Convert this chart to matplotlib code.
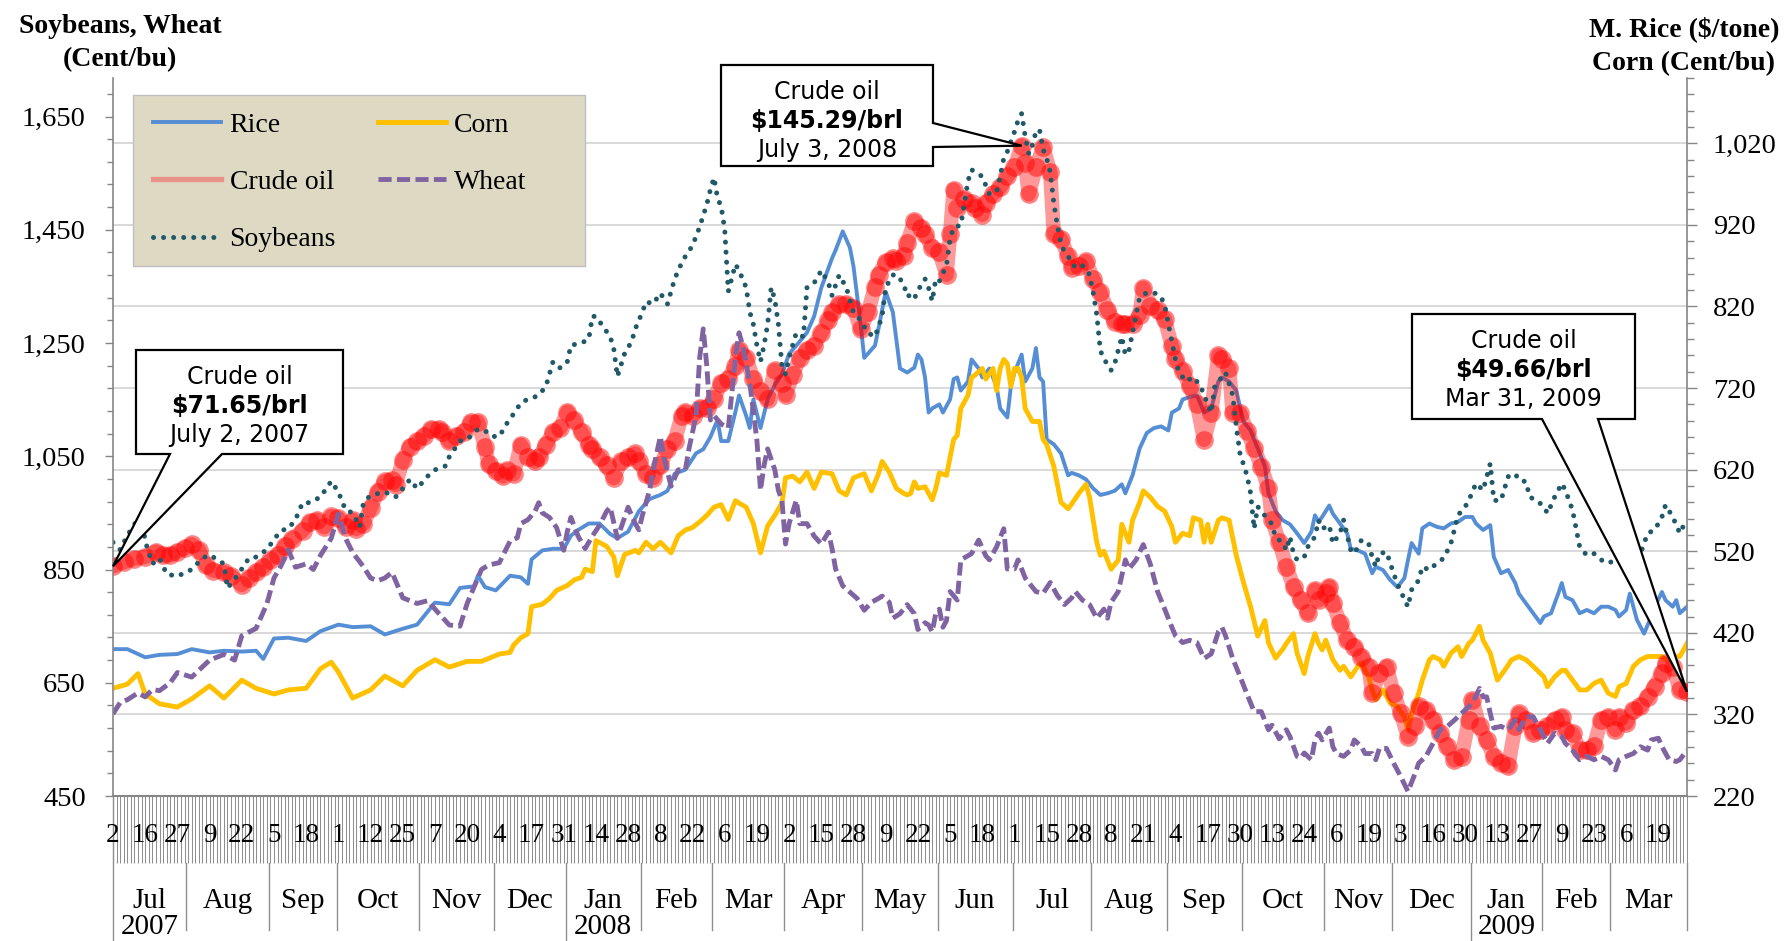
import numpy as np
import pandas as pd
import matplotlib
matplotlib.use("Agg")
import matplotlib.pyplot as plt
from matplotlib.lines import Line2D
from matplotlib.patches import Polygon, Rectangle
from matplotlib.ticker import FixedLocator, FuncFormatter, NullLocator

# ------------------------------------------------------------------
# DATA  (x = trading-day number counted from 2 Jul 2007)
# ------------------------------------------------------------------
market_holidays = ['2007-07-04', '2007-09-03', '2007-11-22', '2007-12-25',
                   '2008-01-01', '2008-01-21', '2008-02-18', '2008-03-21',
                   '2008-05-26', '2008-07-04', '2008-09-01', '2008-11-27',
                   '2008-12-25', '2009-01-01', '2009-01-19', '2009-02-16']

# M. Rice ($/tonne) - right axis
rice_day = [0, 4, 9, 13, 18, 22, 27, 31, 36, 40,
            42, 45, 49, 54, 58, 63, 67, 72, 76, 81,
            85, 90, 94, 97, 101, 102, 104, 107, 111, 114,
            116, 117, 120, 123, 126, 128, 130, 133, 136, 139,
            141, 144, 147, 150, 153, 155, 157, 160, 163, 165,
            167, 169, 170, 172, 174, 175, 177, 178, 179, 181,
            183, 185, 187, 189, 191, 194, 196, 198, 201, 202,
            204, 206, 207, 209, 210, 213, 214, 216, 218, 220,
            222, 224, 225, 226, 227, 228, 229, 231, 232, 234,
            235, 236, 237, 239, 240, 242, 243, 245, 247, 248,
            250, 251, 252, 253, 254, 255, 257, 258, 259, 260,
            261, 263, 265, 267, 268, 270, 272, 274, 276, 278,
            280, 282, 283, 285, 287, 289, 291, 293, 295, 296,
            298, 299, 301, 303, 305, 307, 309, 310, 312, 314,
            316, 318, 320, 322, 323, 325, 327, 329, 331, 333,
            335, 336, 337, 338, 340, 341, 343, 345, 346, 348,
            350, 351, 352, 353, 355, 357, 359, 361, 362, 363,
            365, 366, 368, 370, 372, 374, 376, 378, 380, 381,
            383, 385, 386, 388, 390, 392, 393, 395, 397, 399,
            400, 402, 404, 405, 406, 408, 410, 412, 414, 416,
            418, 420, 421, 423, 424, 426, 428, 430, 431, 433,
            434, 436, 437, 438, 440]
rice_val = [400, 400, 390, 393, 394, 400, 396, 398, 397, 398,
            388, 413, 414, 410, 422, 430, 427, 428, 418, 425,
            430, 457, 455, 475, 477, 490, 476, 472, 490, 488,
            480, 510, 521, 523, 523, 539, 546, 554, 554, 541,
            536, 544, 569, 584, 589, 594, 615, 620, 640, 645,
            660, 681, 655, 655, 691, 711, 686, 671, 706, 671,
            706, 724, 737, 762, 772, 788, 808, 843, 879, 889,
            912, 892, 869, 798, 757, 772, 793, 838, 813, 744,
            739, 745, 761, 755, 733, 690, 695, 700, 690, 706,
            731, 733, 717, 728, 755, 744, 733, 744, 722, 695,
            684, 722, 739, 750, 761, 728, 744, 769, 733, 728,
            657, 651, 640, 613, 616, 613, 608, 597, 589, 591,
            594, 602, 591, 613, 646, 665, 671, 673, 668, 690,
            695, 706, 709, 711, 690, 695, 728, 733, 728, 717,
            679, 668, 646, 624, 591, 569, 558, 553, 542, 530,
            544, 564, 556, 562, 576, 566, 554, 542, 523, 521,
            517, 505, 493, 501, 497, 485, 476, 487, 509, 530,
            517, 548, 554, 550, 548, 554, 556, 562, 562, 554,
            546, 552, 513, 493, 497, 481, 468, 456, 444, 432,
            440, 444, 468, 481, 464, 460, 444, 448, 444, 452,
            452, 448, 440, 448, 468, 436, 419, 440, 452, 470,
            460, 452, 460, 444, 452]

# Corn (cent/bu) - right axis
corn_day = [0, 4, 7, 9, 13, 18, 22, 27, 31, 36,
            40, 45, 49, 54, 58, 61, 63, 67, 72, 76,
            81, 85, 90, 94, 99, 103, 108, 111, 112, 114,
            116, 117, 120, 122, 124, 127, 129, 131, 132, 134,
            135, 138, 140, 141, 143, 146, 147, 149, 151, 153,
            156, 158, 160, 162, 164, 166, 168, 170, 172, 174,
            175, 177, 179, 181, 183, 185, 187, 188, 190, 192,
            194, 196, 198, 201, 203, 205, 207, 210, 212, 214,
            215, 217, 219, 221, 222, 223, 224, 225, 227, 228,
            229, 230, 231, 233, 234, 235, 236, 237, 239, 240,
            241, 243, 244, 246, 247, 248, 249, 250, 251, 252,
            253, 254, 255, 257, 259, 260, 261, 263, 265, 267,
            268, 270, 272, 273, 275, 276, 277, 279, 281, 282,
            284, 285, 287, 288, 290, 292, 294, 296, 297, 299,
            301, 302, 304, 305, 306, 307, 309, 310, 312, 314,
            316, 318, 320, 322, 323, 325, 327, 328, 330, 331,
            333, 334, 336, 337, 338, 339, 341, 343, 344, 346,
            348, 349, 351, 352, 353, 355, 357, 359, 361, 362,
            363, 365, 366, 368, 369, 371, 372, 374, 376, 377,
            379, 380, 382, 383, 385, 387, 389, 391, 393, 395,
            397, 400, 401, 403, 405, 406, 408, 410, 412, 414,
            416, 418, 420, 421, 423, 425, 427, 429, 431, 433,
            434, 436, 438, 440]
corn_val = [352, 357, 370, 345, 333, 329, 339, 355, 340, 362,
            352, 345, 350, 352, 376, 384, 372, 340, 350, 367,
            355, 374, 387, 378, 385, 385, 394, 396, 405, 414,
            419, 452, 455, 462, 472, 478, 485, 488, 498, 495,
            533, 526, 513, 490, 516, 521, 518, 531, 523, 531,
            518, 539, 546, 549, 556, 564, 574, 577, 559, 582,
            579, 574, 554, 518, 551, 564, 579, 610, 612, 605,
            617, 597, 617, 615, 594, 589, 610, 615, 594, 615,
            630, 617, 597, 591, 589, 591, 605, 597, 599, 591,
            583, 597, 616, 613, 635, 657, 662, 695, 711, 733,
            736, 744, 731, 744, 717, 744, 755, 750, 722, 744,
            744, 733, 695, 679, 679, 657, 651, 624, 580, 572,
            578, 591, 602, 586, 531, 515, 520, 498, 509, 553,
            531, 558, 580, 594, 586, 575, 569, 550, 531, 542,
            539, 561, 558, 531, 553, 531, 558, 561, 558, 515,
            482, 452, 416, 435, 408, 389, 400, 407, 419, 395,
            370, 391, 419, 407, 399, 411, 387, 374, 379, 366,
            379, 383, 366, 350, 338, 350, 334, 330, 317, 301,
            321, 346, 362, 387, 391, 387, 379, 395, 403, 391,
            407, 411, 428, 411, 395, 362, 374, 387, 391, 387,
            379, 366, 354, 366, 374, 374, 362, 350, 350, 358,
            362, 346, 342, 354, 358, 379, 387, 391, 391, 391,
            387, 391, 391, 407]

# Wheat (cent/bu) - left axis
wheat_day = [0, 2, 4, 7, 9, 11, 13, 16, 18, 22,
             27, 31, 34, 36, 40, 43, 45, 47, 49, 51,
             54, 56, 58, 61, 63, 65, 67, 70, 72, 74,
             76, 78, 81, 85, 88, 90, 94, 97, 99, 101,
             103, 105, 108, 111, 113, 114, 116, 118, 119, 120,
             122, 124, 126, 127, 128, 130, 132, 134, 136, 138,
             139, 141, 143, 144, 146, 147, 148, 150, 151, 153,
             154, 156, 158, 160, 161, 163, 164, 165, 166, 167,
             168, 170, 172, 174, 175, 176, 178, 179, 180, 181,
             182, 183, 185, 186, 187, 188, 189, 191, 192, 194,
             196, 198, 200, 201, 202, 204, 206, 208, 210, 212,
             214, 215, 217, 218, 220, 222, 224, 225, 227, 228,
             229, 230, 231, 232, 233, 234, 236, 237, 240, 241,
             242, 244, 245, 247, 249, 250, 252, 253, 255, 256,
             258, 260, 262, 264, 266, 268, 269, 271, 273, 275,
             277, 278, 279, 281, 283, 284, 286, 288, 290, 292,
             294, 296, 297, 299, 301, 303, 305, 307, 309, 310,
             311, 313, 315, 317, 319, 321, 323, 324, 326, 327,
             328, 329, 331, 332, 333, 335, 336, 337, 338, 340,
             341, 342, 344, 346, 347, 349, 350, 352, 353, 354,
             356, 358, 360, 362, 364, 365, 367, 369, 371, 373,
             375, 377, 379, 380, 382, 383, 384, 385, 386, 388,
             390, 392, 393, 395, 397, 399, 401, 403, 405, 406,
             408, 410, 412, 414, 416, 418, 420, 421, 423, 425,
             427, 429, 430, 432, 433, 435, 437, 438, 440]
wheat_val = [595, 615, 620, 632, 625, 638, 636, 650, 668, 660,
             690, 700, 690, 733, 746, 789, 835, 857, 885, 854,
             860, 850, 875, 905, 948, 905, 880, 855, 835, 830,
             835, 845, 800, 790, 795, 780, 752, 750, 790, 820,
             850, 858, 862, 900, 906, 931, 938, 953, 968, 950,
             942, 924, 884, 917, 942, 909, 887, 909, 928, 953,
             960, 905, 942, 960, 931, 920, 946, 990, 1026, 1085,
             1048, 997, 1026, 1026, 1063, 1122, 1224, 1275, 1209, 1114,
             1122, 1107, 1100, 1224, 1268, 1246, 1180, 1129, 1078, 990,
             1034, 1063, 1026, 990, 972, 895, 931, 972, 931, 931,
             909, 895, 916, 887, 851, 821, 810, 799, 778, 792,
             799, 803, 792, 764, 772, 788, 772, 744, 756, 752,
             740, 772, 780, 748, 760, 811, 796, 867, 878, 890,
             902, 874, 867, 890, 922, 851, 851, 867, 835, 827,
             811, 808, 827, 804, 788, 800, 811, 796, 788, 764,
             780, 764, 792, 811, 867, 851, 867, 894, 859, 811,
             780, 748, 733, 721, 725, 721, 693, 701, 740, 748,
             733, 693, 662, 630, 599, 599, 567, 575, 551, 559,
             567, 555, 520, 517, 526, 514, 549, 561, 549, 570,
             537, 525, 520, 531, 549, 537, 525, 525, 514, 534,
             534, 508, 484, 458, 490, 508, 520, 543, 567, 573,
             584, 596, 608, 614, 640, 625, 625, 596, 570, 573,
             567, 584, 567, 590, 590, 567, 543, 561, 555, 543,
             531, 514, 520, 514, 520, 514, 496, 514, 520, 525,
             537, 531, 549, 552, 537, 514, 511, 514, 531]

# Soybeans (cent/bu) - left axis
soy_day = [0, 2, 4, 6, 8, 9, 11, 13, 15, 18,
           22, 25, 27, 31, 32, 34, 36, 38, 40, 43,
           45, 47, 49, 51, 53, 55, 58, 61, 63, 65,
           67, 69, 70, 72, 76, 79, 81, 83, 85, 88,
           90, 93, 94, 97, 99, 102, 104, 106, 108, 110,
           112, 114, 116, 118, 119, 121, 123, 125, 127, 128,
           131, 133, 134, 135, 137, 139, 140, 141, 143, 145,
           146, 148, 149, 151, 153, 155, 157, 159, 160, 162,
           164, 166, 167, 168, 169, 170, 171, 172, 174, 175,
           177, 178, 179, 180, 181, 182, 183, 184, 185, 186,
           187, 188, 189, 191, 193, 194, 196, 198, 200, 201,
           203, 205, 207, 209, 211, 213, 215, 216, 218, 219,
           221, 222, 223, 224, 225, 227, 228, 229, 230, 231,
           233, 234, 235, 237, 238, 239, 240, 241, 243, 244,
           245, 247, 248, 249, 250, 252, 253, 254, 255, 256,
           257, 258, 259, 260, 261, 262, 263, 264, 265, 266,
           268, 269, 271, 273, 274, 275, 276, 277, 278, 279,
           280, 281, 282, 283, 284, 285, 287, 289, 291, 293,
           294, 295, 296, 297, 298, 300, 302, 304, 306, 307,
           308, 310, 311, 313, 314, 315, 317, 318, 319, 320,
           322, 324, 325, 327, 328, 329, 330, 331, 333, 334,
           336, 337, 338, 340, 341, 343, 344, 346, 347, 349,
           351, 352, 353, 354, 356, 358, 359, 360, 362, 363,
           365, 366, 368, 370, 372, 374, 376, 378, 379, 381,
           383, 385, 386, 388, 390, 392, 393, 395, 396, 398,
           400, 401, 403, 405, 406, 408, 410, 412, 414, 416,
           418, 420, 421, 423, 425, 427, 429, 431, 433, 434,
           436, 438, 440]
soy_val = [898, 885, 910, 930, 944, 900, 860, 870, 842, 838,
           850, 870, 876, 860, 817, 833, 851, 870, 872, 885,
           903, 919, 922, 938, 968, 968, 978, 1006, 987, 955,
           950, 925, 968, 981, 987, 978, 993, 1009, 993, 1015,
           1026, 1033, 1049, 1077, 1080, 1098, 1095, 1085, 1085, 1107,
           1125, 1144, 1151, 1155, 1158, 1173, 1217, 1206, 1217, 1246,
           1250, 1257, 1297, 1297, 1279, 1261, 1239, 1191, 1231, 1253,
           1275, 1305, 1323, 1319, 1338, 1319, 1363, 1392, 1403, 1422,
           1455, 1495, 1521, 1542, 1506, 1491, 1451, 1341, 1389, 1378,
           1348, 1305, 1283, 1246, 1217, 1246, 1283, 1348, 1327, 1283,
           1209, 1195, 1224, 1268, 1261, 1348, 1356, 1378, 1356, 1334,
           1370, 1348, 1304, 1290, 1268, 1261, 1297, 1348, 1370, 1371,
           1355, 1332, 1335, 1328, 1343, 1363, 1347, 1324, 1363, 1359,
           1387, 1434, 1454, 1458, 1497, 1536, 1556, 1552, 1544, 1528,
           1513, 1517, 1544, 1576, 1588, 1623, 1643, 1655, 1615, 1584,
           1599, 1623, 1627, 1592, 1576, 1552, 1497, 1457, 1426, 1410,
           1395, 1383, 1387, 1371, 1339, 1300, 1237, 1221, 1213, 1202,
           1213, 1237, 1261, 1229, 1237, 1268, 1331, 1339, 1339, 1331,
           1316, 1284, 1253, 1221, 1198, 1182, 1190, 1174, 1142, 1127,
           1174, 1190, 1198, 1158, 1103, 1056, 1016, 985, 922, 961,
           945, 930, 906, 898, 884, 908, 878, 867, 872, 890,
           908, 937, 922, 928, 896, 914, 937, 884, 878, 902,
           896, 872, 855, 878, 881, 843, 825, 811, 784, 814,
           831, 855, 849, 861, 870, 896, 946, 961, 972, 1002,
           990, 1037, 972, 972, 1014, 1019, 1008, 1005, 978, 972,
           961, 949, 978, 1002, 990, 955, 890, 875, 878, 867,
           861, 867, 878, 872, 878, 878, 914, 920, 943, 964,
           943, 914, 940]

# Crude oil ($/brl) - shown on the right scale x7
oil_day = [0, 3, 6, 9, 12, 14, 16, 18, 20, 22,
           24, 26, 28, 31, 33, 36, 38, 40, 42, 44,
           46, 48, 50, 53, 55, 57, 59, 61, 63, 65,
           67, 68, 70, 72, 74, 76, 78, 79, 81, 83,
           85, 87, 89, 91, 92, 94, 96, 98, 100, 102,
           104, 105, 107, 109, 110, 112, 114, 116, 118, 119,
           121, 123, 125, 127, 129, 131, 133, 134, 136, 138,
           140, 142, 144, 146, 147, 149, 151, 153, 155, 157,
           159, 160, 162, 164, 166, 168, 170, 172, 174, 175,
           177, 179, 181, 183, 185, 187, 188, 190, 192, 194,
           196, 198, 200, 201, 203, 205, 207, 209, 211, 213,
           214, 216, 218, 219, 221, 222, 224, 226, 227, 229,
           231, 233, 234, 235, 236, 238, 240, 241, 243, 244,
           246, 248, 250, 252, 254, 255, 256, 258, 260, 262,
           263, 265, 267, 268, 270, 272, 274, 276, 278, 280,
           282, 283, 285, 287, 288, 290, 292, 294, 296, 297,
           299, 301, 303, 305, 307, 309, 310, 312, 313, 315,
           317, 319, 321, 323, 324, 326, 328, 330, 332, 334,
           336, 337, 339, 340, 341, 343, 345, 347, 349, 351,
           352, 354, 356, 358, 360, 362, 364, 365, 367, 369,
           371, 373, 375, 377, 379, 380, 382, 384, 386, 388,
           390, 392, 393, 395, 397, 399, 401, 403, 405, 406,
           408, 410, 412, 414, 416, 418, 420, 421, 423, 425,
           427, 429, 431, 433, 434, 436, 438, 440]
oil_val = [71.65, 72.4, 73.0, 73.3, 74.2, 73.6, 73.6, 74.2, 74.8, 75.5,
           74.5, 71.8, 70.9, 70.6, 70.0, 68.4, 69.6, 70.6, 71.5, 72.7,
           73.6, 75.2, 76.4, 77.9, 79.4, 79.8, 78.5, 80.4, 80.1, 78.5,
           79.8, 78.2, 79.1, 81.9, 84.7, 86.5, 86.8, 85.9, 90.2, 92.6,
           93.5, 94.5, 95.7, 95.7, 95.1, 93.5, 94.5, 95.1, 96.9, 96.9,
           92.6, 89.5, 88.3, 87.4, 88.5, 87.8, 92.9, 90.7, 90.0, 90.7,
           92.9, 95.1, 95.8, 98.7, 97.2, 95.1, 92.9, 92.2, 90.7, 89.3,
           87.1, 90.0, 90.7, 91.4, 90.0, 87.8, 87.1, 89.3, 92.2, 93.6,
           98.0, 98.7, 98.0, 99.4, 99.4, 100.9, 103.8, 104.5, 106.7, 109.6,
           108.1, 104.5, 102.3, 100.9, 106.0, 103.8, 101.6, 105.2, 108.1, 109.6,
           110.3, 112.5, 114.7, 116.1, 117.6, 117.6, 116.9, 113.2, 116.1, 120.5,
           122.7, 124.9, 125.6, 125.1, 125.9, 128.2, 132.1, 130.9, 129.8, 127.4,
           126.6, 122.7, 129.8, 137.6, 134.4, 136.0, 135.2, 134.4, 133.2, 135.2,
           136.8, 138.0, 139.9, 141.5, 145.29, 142.2, 136.8, 141.5, 145.0, 140.7,
           129.8, 129.0, 125.9, 123.9, 124.3, 125.1, 121.9, 119.6, 116.5, 114.5,
           114.1, 114.1, 114.1, 115.7, 120.4, 117.3, 116.5, 114.9, 110.2, 107.9,
           105.9, 103.2, 100.1, 93.8, 98.5, 108.6, 107.9, 106.3, 98.5, 98.5,
           95.4, 92.3, 89.1, 85.3, 79.8, 75.9, 71.6, 68.1, 65.7, 63.4,
           67.5, 65.7, 66.9, 68.1, 65.2, 61.7, 58.7, 57.6, 55.8, 54.1,
           49.4, 52.9, 54.1, 49.4, 45.9, 41.8, 43.6, 47.1, 46.5, 44.8,
           42.4, 40.1, 37.7, 38.3, 44.8, 48.2, 43.6, 41.2, 38.3, 37.2,
           36.6, 43.6, 45.9, 44.8, 42.4, 43.0, 43.6, 44.8, 45.3, 43.0,
           42.4, 39.5, 39.5, 40.1, 44.8, 45.3, 43.0, 45.3, 44.2, 46.5,
           47.1, 48.8, 50.6, 52.9, 54.7, 54.1, 50.0, 49.66]

OIL_SCALE = 7            # crude oil plotted on the right scale as $/brl x 7
left_major = list(range(450, 1651, 200))
right_major = list(range(220, 1021, 100))

# ------------------------------------------------------------------
# FIGURE
# ------------------------------------------------------------------
plt.rcParams['font.family'] = ['Liberation Serif', 'DejaVu Serif']
SANS = ['DejaVu Sans']

W, H = 1787, 941
fig = plt.figure(figsize=(W / 100, H / 100), dpi=100)
fig.patch.set_facecolor('white')

L, R, T, B = 113, 1687, 78, 796
rect = [L / W, 1 - B / H, (R - L) / W, (B - T) / H]


def fx(px):
    return px / W


def fy(py):
    return 1 - py / H


def ay(py):
    return (B - py) / (B - T)


def axx(px):
    return (px - L) / (R - L)


days = pd.bdate_range('2007-07-02', '2009-03-31', freq='C', holidays=market_holidays)
n = len(days)

ax_r = fig.add_axes(rect, zorder=1)
ax_o = fig.add_axes(rect, zorder=2)
ax_l = fig.add_axes(rect, zorder=3)

GRAY = '#868686'
fmt = FuncFormatter(lambda v, p: f'{v:,.0f}')

# ---- right axis (rice / corn) -------------------------------------
ax_r.set_xlim(0, n - 1)
ax_r.set_ylim(220, 1100)
ax_r.yaxis.tick_right()
ax_r.yaxis.set_major_locator(FixedLocator(right_major))
ax_r.yaxis.set_minor_locator(FixedLocator(np.arange(220, 1101, 20)))
ax_r.yaxis.set_major_formatter(fmt)
ax_r.tick_params(axis='y', which='major', direction='out', length=7, width=1,
                 color=GRAY, pad=11.5, labelsize=20.5, right=True, left=False,
                 labelright=True, labelleft=False)
ax_r.tick_params(axis='y', which='minor', direction='out', length=5, width=1,
                 color=GRAY, right=True, left=False)
ax_r.xaxis.set_major_locator(NullLocator())
ax_r.xaxis.set_minor_locator(FixedLocator(np.arange(n)))
ax_r.tick_params(axis='x', which='minor', direction='out', length=48, width=0.75,
                 color='#8F8F8F', labelbottom=False)
ax_r.grid(axis='y', which='major', color='#D9D9D9', lw=1.4)
ax_r.set_axisbelow(True)
ax_r.spines['top'].set_visible(False)
ax_r.spines['left'].set_visible(False)
ax_r.spines['right'].set_color(GRAY)
ax_r.spines['right'].set_linewidth(1.2)
ax_r.spines['bottom'].set_color(GRAY)
ax_r.spines['bottom'].set_linewidth(1.5)

h_rice, = ax_r.plot(rice_day, rice_val, color='#558ED5', lw=2.8,
                    solid_joinstyle='round')
h_corn, = ax_r.plot(corn_day, corn_val, color='#FFC000', lw=3.5,
                    solid_joinstyle='round')

# ---- oil axis (hidden) ---------------------------------------------
ax_o.set_xlim(0, n - 1)
ax_o.set_ylim(220 / OIL_SCALE, 1100 / OIL_SCALE)
ax_o.axis('off')
ax_o.patch.set_visible(False)
ax_o.plot(oil_day, oil_val, color='#FF0000', alpha=0.4, lw=10.5,
          solid_capstyle='round', solid_joinstyle='round')
ax_o.plot(oil_day, oil_val, ls='none', marker='o', ms=13.5, mfc='#FF0000',
          mec='none', alpha=0.48)

# ---- left axis (wheat / soybeans) ----------------------------------
ax_l.set_xlim(0, n - 1)
ax_l.set_ylim(450, 1718)
ax_l.patch.set_visible(False)
ax_l.xaxis.set_visible(False)
for s in ('top', 'right', 'bottom'):
    ax_l.spines[s].set_visible(False)
ax_l.spines['left'].set_color(GRAY)
ax_l.spines['left'].set_linewidth(1.2)
ax_l.yaxis.set_major_locator(FixedLocator(left_major))
ax_l.yaxis.set_minor_locator(FixedLocator(np.arange(450, 1718, 40)))
ax_l.yaxis.set_major_formatter(fmt)
ax_l.tick_params(axis='y', which='major', direction='out', length=6, width=1,
                 color=GRAY, pad=13.5, labelsize=20.5)
ax_l.tick_params(axis='y', which='minor', direction='out', length=4.5, width=1,
                 color=GRAY)

h_wheat, = ax_l.plot(wheat_day, wheat_val, color='#8064A2', lw=3.5,
                     dashes=(2.7, 1.1), solid_joinstyle='round')
h_soy, = ax_l.plot(soy_day, soy_val, color='#215968', lw=3.6,
                   ls=(0, (0.01, 2.0)), dash_capstyle='round')

# ---- legend ---------------------------------------------------------
ax_l.add_patch(Rectangle((axx(133), ay(266)), axx(585) - axx(133), ay(95) - ay(266),
                         transform=ax_l.transAxes, facecolor='#DDD9C3',
                         edgecolor='#BFBFBF', lw=1, zorder=4, clip_on=False))
oil_handle = Line2D([], [], color='#E9928A', lw=3.8)
ax_l.legend([h_rice, oil_handle, h_soy, h_corn, h_wheat],
            ['Rice', 'Crude oil', 'Soybeans', 'Corn', 'Wheat'],
            ncol=2, loc='upper left', bbox_to_anchor=(axx(142), ay(101)),
            frameon=False, fontsize=20, handlelength=2.45, handletextpad=0.3,
            columnspacing=1.5, labelspacing=1.15, borderpad=0.4, borderaxespad=0)

# ---- category axis labels -------------------------------------------
xt = ax_r.get_xaxis_transform()
for k in range(0, n, 9):
    ax_r.text(k, ay(842), str(days[k].day), transform=xt, ha='center',
              va='baseline', fontsize=19.5, clip_on=False)

month_id = days.year * 12 + days.month
starts = [0] + [i for i in range(1, n) if month_id[i] != month_id[i - 1]]
edges = [0] + [s - 0.5 for s in starts[1:]] + [n - 1]
for j, s in enumerate(starts):
    c = (edges[j] + edges[j + 1]) / 2
    ax_r.text(c, ay(908), days[s].strftime('%b'), transform=xt, ha='center',
              va='baseline', fontsize=21, clip_on=False)
    if j == 0 or days[s].month == 1:
        ax_r.text(c, ay(934), str(days[s].year), transform=xt, ha='center',
                  va='baseline', fontsize=21, clip_on=False)
for j, e in enumerate(edges):
    is_year = (j == 0) or (j < len(starts) and days[starts[j]].month == 1)
    y_end = ay(H + 5) if is_year else ay(930)
    y_start = ay(B) if j == 0 else ay(863)
    ax_r.add_artist(Line2D([e, e], [y_start, y_end], transform=xt,
                           color='#8F8F8F', lw=1, clip_on=False))

# ---- axis titles ------------------------------------------------------
fig.text(fx(120), fy(33), 'Soybeans, Wheat', ha='center', va='baseline',
         fontsize=20, weight='bold')
fig.text(fx(120), fy(66), '(Cent/bu)', ha='center', va='baseline',
         fontsize=20, weight='bold')
fig.text(fx(1684), fy(36), 'M. Rice (\\$/tone)', ha='center', va='baseline',
         fontsize=20, weight='bold')
fig.text(fx(1684), fy(70), 'Corn (Cent/bu)', ha='center', va='baseline',
         fontsize=20, weight='bold')


# ---- callouts -----------------------------------------------------------
def callout(box, tip_data, edge, base, lines):
    x0, y0, x1, y1 = box
    tx, ty = ax_o.transData.transform(tip_data)
    ty = H - ty
    if edge == 'bottom':
        b1, b2 = base
        pts = [(x0, y0), (x1, y0), (x1, y1), (b2, y1), (tx, ty), (b1, y1), (x0, y1)]
    else:
        a1, a2 = base
        pts = [(x0, y0), (x1, y0), (x1, a1), (tx, ty), (x1, a2), (x1, y1), (x0, y1)]
    poly = Polygon([(fx(x), fy(y)) for x, y in pts], closed=True,
                   transform=fig.transFigure, facecolor='white',
                   edgecolor='black', lw=1.6, zorder=10, joinstyle='miter')
    fig.add_artist(poly)
    cx = (x0 + x1) / 2
    for k, (txt, bold) in enumerate(lines):
        fig.text(fx(cx), fy(y0 + 34 + 29 * k), txt, ha='center', va='baseline',
                 fontsize=17, family=SANS, weight='bold' if bold else 'normal',
                 zorder=11)


i_max = int(np.argmax(oil_val))
callout((136, 350, 343, 454), (oil_day[0], oil_val[0]), 'bottom', (170, 222),
        [('Crude oil', False), (f'\\${oil_val[0]:.2f}/brl', True), ('July 2, 2007', False)])
callout((721, 65, 933, 166), (oil_day[i_max], oil_val[i_max]), 'right', (123, 147),
        [('Crude oil', False), (f'\\${oil_val[i_max]:.2f}/brl', True), ('July 3, 2008', False)])
callout((1412, 314, 1635, 419), (oil_day[-1], oil_val[-1]), 'bottom', (1542, 1598),
        [('Crude oil', False), (f'\\${oil_val[-1]:.2f}/brl', True), ('Mar 31, 2009', False)])

fig.savefig('out.png', dpi=100)
